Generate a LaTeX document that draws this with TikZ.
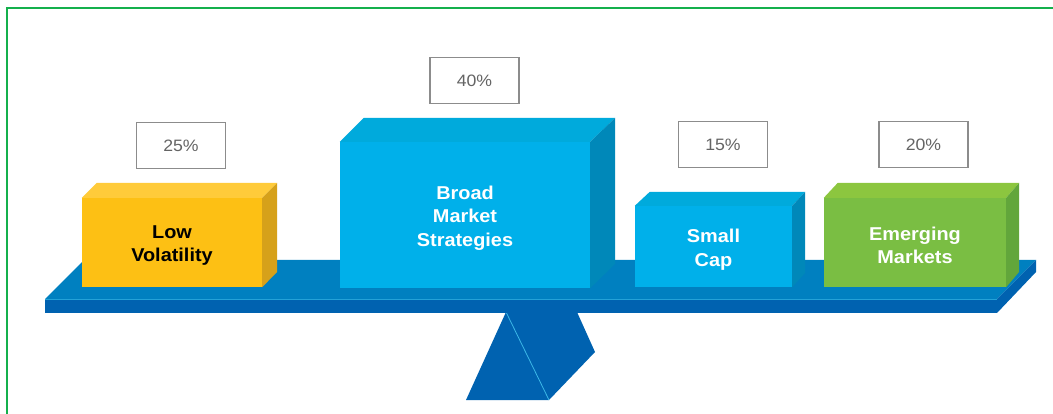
\documentclass[tikz,border=0pt]{standalone}
\usepackage{fontspec}
\newfontfamily\labfont[FakeStretch=1.07]{Liberation Sans}
\usetikzlibrary{calc}

\definecolor{frameGreen}{RGB}{20,176,76}
\definecolor{yelFront}{RGB}{253,192,20}
\definecolor{yelTop}{RGB}{255,203,58}
\definecolor{yelSide}{RGB}{214,161,26}
\definecolor{cyaFront}{RGB}{0,176,234}
\definecolor{cyaTop}{RGB}{0,170,220}
\definecolor{cyaSide}{RGB}{0,136,185}
\definecolor{grnFront}{RGB}{122,190,67}
\definecolor{grnTop}{RGB}{140,198,63}
\definecolor{grnSide}{RGB}{98,166,59}
\definecolor{beamTop}{RGB}{0,128,192}
\definecolor{beamFront}{RGB}{0,98,176}
\definecolor{beamEdge}{RGB}{60,184,232}
\definecolor{pctLine}{RGB}{140,140,140}
\definecolor{pctText}{RGB}{100,100,100}

\tikzset{
  pctbox/.style={draw=pctLine, line width=1.8pt, fill=white,
    minimum width=89pt, minimum height=46pt, inner sep=0pt,
    font=\labfont\fontsize{16.5}{18}\selectfont, text=pctText},
  blockface/.style={inner sep=0pt},
  blocktext/.style={inner sep=0pt, align=center, yshift=-3pt,
    font=\labfont\bfseries\fontsize{18.6}{23.6}\selectfont},
}

\begin{document}
\begin{tikzpicture}[x=1pt, y=-1pt]
  \useasboundingbox (0,0) rectangle (1053,414);
  \clip (0,0) rectangle (1053,414);

  % outer frame (runs past the right and bottom edges)
  \draw[frameGreen, line width=2.4pt] (7,8) rectangle (1070,430);

  % fulcrum under the beam
  \coordinate (fa) at (506,312);
  \coordinate (fb) at (577,312);
  \coordinate (fc) at (595,352);
  \coordinate (fd) at (549,400);
  \coordinate (fe) at (466,400);
  \fill[beamFront] (fa) -- (fb) -- (fc) -- (fd) -- (fe) -- cycle;
  \draw[beamEdge, line width=0.8pt] (fa) -- (fd);

  % beam: top surface, right end and front face
  \coordinate (bl) at (45,299);
  \coordinate (br) at (997,299);
  \fill[beamTop] (bl) -- (br) -- ++(39,-39) -- (84,260) -- cycle;
  \fill[beamFront] (br) -- ++(39,-39) -- ++(0,12) -- (997,313) -- cycle;
  \fill[beamFront] (bl) rectangle (997,313);
  \draw[beamEdge!60!beamTop, line width=0.6pt] (bl) -- (br);

  % blocks standing on the beam
  \node[blockface, fill=yelFront, minimum width=180pt, minimum height=89pt,
        label={[blocktext, text=black]center:Low\\Volatility}] (low) at (172,242.5) {};
  \fill[yelTop] (low.north west) -- ++(15,-15) -- ($(low.north east)+(15,-15)$) -- (low.north east) -- cycle;
  \fill[yelSide] (low.north east) -- ++(15,-15) -- ++(0,89) -- (low.south east) -- cycle;

  \node[blockface, fill=cyaFront, minimum width=250pt, minimum height=146pt,
        label={[blocktext, text=white]center:Broad\\Market\\Strategies}] (broad) at (465,215) {};
  \fill[cyaTop] (broad.north west) -- ++(24,-24) -- ($(broad.north east)+(25,-24)$) -- (broad.north east) -- cycle;
  \fill[cyaSide] (broad.north east) -- ++(25,-24) -- ++(0,146) -- (broad.south east) -- cycle;

  \node[blockface, fill=cyaFront, minimum width=157pt, minimum height=81pt,
        label={[blocktext, text=white]center:Small\\Cap}] (small) at (713.5,246.5) {};
  \fill[cyaTop] (small.north west) -- ++(15,-14) -- ($(small.north east)+(13,-14)$) -- (small.north east) -- cycle;
  \fill[cyaSide] (small.north east) -- ++(13,-14) -- ++(0,81) -- (small.south east) -- cycle;

  \node[blockface, fill=grnFront, minimum width=182pt, minimum height=89pt,
        label={[blocktext, text=white]center:Emerging\\Markets}] (emerg) at (915,242.5) {};
  \fill[grnTop] (emerg.north west) -- ++(14,-15) -- ($(emerg.north east)+(13,-15)$) -- (emerg.north east) -- cycle;
  \fill[grnSide] (emerg.north east) -- ++(13,-15) -- ++(0,89) -- (emerg.south east) -- cycle;

  % allocation labels
  \node[pctbox] (p25) at (181,145.5) {25\%};
  \node[pctbox] (p40) at (474.5,80.5) {40\%};
  \node[pctbox] (p15) at (723,144.5) {15\%};
  \node[pctbox] (p20) at (923.5,144.5) {20\%};
\end{tikzpicture}
\end{document}
